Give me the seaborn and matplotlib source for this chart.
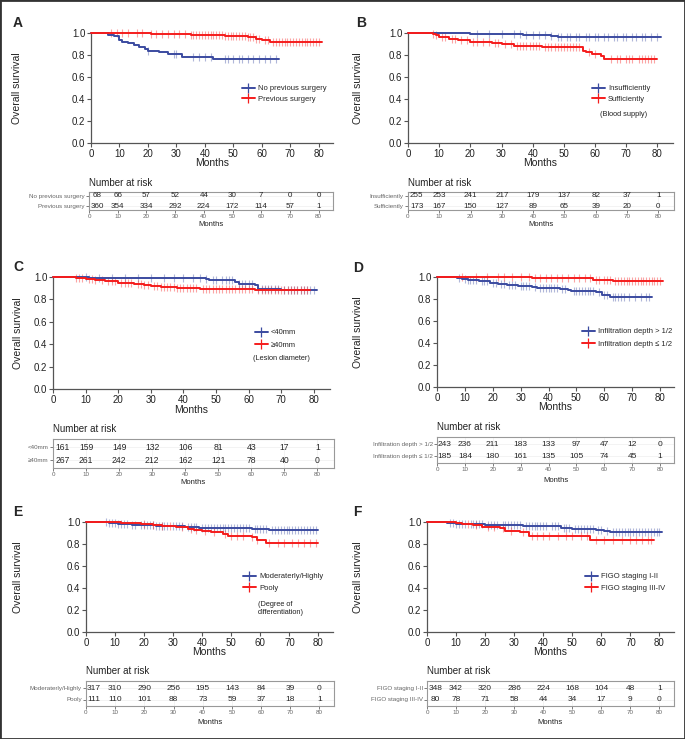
import numpy as np
import matplotlib
matplotlib.use("Agg")
import matplotlib.pyplot as plt
import seaborn as sns
from matplotlib.lines import Line2D
from matplotlib.patches import Rectangle

sns.set_theme(style="ticks")
plt.rcParams["font.family"] = ["Liberation Sans", "DejaVu Sans"]

BLUE = "#3b4ba0"
RED = "#f51c1c"
W, H = 685, 739

# ====================================================
# DATA
# ====================================================
months = [0, 10, 20, 30, 40, 50, 60, 70, 80]

# A - previous surgery
a_groups = ["No previous surgery", "Previous surgery"]
a_blue_t = [6, 8, 10, 11, 13, 15, 17, 19, 20, 24, 27, 32, 43]
a_blue_s = [0.985, 0.97, 0.94, 0.92, 0.905, 0.89, 0.87, 0.855, 0.84, 0.825, 0.81, 0.78, 0.76]
a_blue_end = 66
a_blue_cens = [20, 29, 30, 36, 38, 40, 42, 47, 48, 50, 52, 53, 55, 57, 59, 61, 63, 65]
a_red_t = [8, 21, 35, 47, 55, 58, 60, 63]
a_red_s = [0.997, 0.99, 0.98, 0.97, 0.96, 0.95, 0.94, 0.92]
a_red_end = 81
a_red_cens = [7, 9, 11, 13, 16, 18, 21, 23, 25, 27, 29, 31, 33, 35, 36, 37, 38, 39, 40, 41,
              42, 43, 44, 45, 46, 47, 48, 49, 50, 51, 52, 53, 54, 55, 56, 57, 58, 59, 61, 62,
              64, 65, 66, 67, 68, 69, 70, 71, 72, 73, 74, 75, 76, 77, 78, 79, 80]
a_risk_blue = [68, 66, 57, 52, 44, 30, 7, 0, 0]
a_risk_red = [360, 354, 334, 292, 224, 172, 114, 57, 1]

# B - blood supply
b_groups = ["Insufficiently", "Sufficiently"]
b_blue_t = [20, 32, 37, 46, 48]
b_blue_s = [0.995, 0.99, 0.98, 0.975, 0.965]
b_blue_end = 81
b_blue_cens = [22, 26, 30, 34, 36, 38, 40, 42, 44, 46, 48, 49, 51, 52, 54, 55, 57, 58, 60, 61,
               63, 64, 66, 67, 69, 70, 72, 73, 75, 76, 78, 80]
b_red_t = [8, 9, 10, 13, 16, 20, 27, 30, 34, 43, 56, 57, 59, 62, 63]
b_red_s = [0.99, 0.98, 0.96, 0.95, 0.935, 0.92, 0.91, 0.90, 0.88, 0.87, 0.84, 0.825, 0.81, 0.79, 0.76]
b_red_end = 80
b_red_cens = [8, 9, 11, 12, 14, 15, 17, 19, 21, 22, 24, 26, 28, 29, 31, 33, 35, 36, 37, 38,
              39, 40, 41, 42, 44, 45, 46, 47, 48, 49, 50, 51, 52, 53, 54, 55, 58, 60, 65, 67,
              68, 70, 71, 72, 74, 75, 76, 77, 78, 79]
b_risk_blue = [255, 253, 241, 217, 179, 137, 82, 37, 1]
b_risk_red = [173, 167, 150, 127, 89, 65, 39, 20, 0]

# C - lesion diameter
c_groups = ["<40mm", "≥40mm"]
c_blue_t = [11, 32, 47, 48, 56, 57, 62, 63, 70]
c_blue_s = [0.995, 0.99, 0.98, 0.97, 0.955, 0.94, 0.93, 0.89, 0.88]
c_blue_end = 81
c_blue_cens = [10, 14, 18, 22, 26, 30, 34, 37, 40, 43, 45, 47, 49, 50, 52, 53, 54, 55, 57, 58,
               59, 60, 61, 63, 64, 65, 66, 67, 68, 69, 71, 72, 73, 74, 75, 76, 77, 78, 79, 80]
c_red_t = [7, 9, 10, 13, 16, 20, 25, 28, 30, 33, 38, 45, 62]
c_red_s = [0.995, 0.99, 0.98, 0.97, 0.96, 0.95, 0.94, 0.93, 0.92, 0.91, 0.90, 0.89, 0.885]
c_red_end = 79
c_red_cens = [7, 8, 9, 11, 12, 13, 15, 17, 18, 19, 21, 22, 23, 24, 26, 27, 28, 29, 31, 32,
              33, 34, 35, 36, 37, 38, 39, 40, 41, 42, 43, 44, 46, 47, 48, 49, 50, 51, 52, 53,
              54, 55, 56, 57, 58, 59, 60, 61, 63, 64, 65, 66, 67, 68, 69, 70, 71, 72, 73, 74,
              75, 76, 77, 78]
c_risk_blue = [161, 159, 149, 132, 106, 81, 43, 17, 1]
c_risk_red = [267, 261, 242, 212, 162, 121, 78, 40, 0]

# D - infiltration depth
d_groups = ["Infiltration depth > 1/2", "Infiltration depth ≤ 1/2"]
d_blue_t = [7, 9, 11, 15, 19, 22, 25, 29, 34, 36, 44, 47, 48, 57, 59, 62]
d_blue_s = [0.99, 0.98, 0.97, 0.96, 0.95, 0.94, 0.93, 0.92, 0.91, 0.90, 0.89, 0.88, 0.87, 0.86, 0.84, 0.82]
d_blue_end = 77
d_blue_cens = [8, 10, 11, 12, 13, 14, 16, 17, 18, 20, 21, 23, 24, 26, 27, 28, 30, 31, 32, 33,
               35, 37, 38, 39, 40, 41, 42, 43, 45, 46, 49, 50, 51, 52, 53, 54, 55, 56, 58, 60,
               61, 63, 64, 65, 66, 67, 69, 71, 73, 75, 76]
d_red_t = [34, 56, 63]
d_red_s = [0.99, 0.975, 0.96]
d_red_end = 81
d_red_cens = [9, 14, 18, 22, 24, 27, 30, 33, 35, 37, 39, 41, 43, 45, 47, 49, 51, 53, 55, 57,
              58, 60, 61, 62, 64, 65, 66, 67, 68, 69, 70, 71, 72, 73, 74, 75, 76, 77, 78, 79, 80]
d_risk_blue = [243, 236, 211, 183, 133, 97, 47, 12, 0]
d_risk_red = [185, 184, 180, 161, 135, 105, 74, 45, 1]

# E - degree of differentiation
e_groups = ["Moderaterly/Highly", "Pooly"]
e_blue_t = [8, 11, 16, 24, 30, 34, 39, 57, 63]
e_blue_s = [0.99, 0.98, 0.97, 0.965, 0.96, 0.955, 0.95, 0.94, 0.925]
e_blue_end = 80
e_blue_cens = [7, 8, 9, 10, 11, 12, 13, 14, 16, 17, 19, 20, 21, 22, 23, 24, 25, 26, 27, 28,
               30, 31, 32, 33, 35, 36, 37, 38, 40, 41, 42, 43, 44, 45, 46, 47, 48, 49, 50, 51,
               52, 53, 54, 55, 56, 58, 59, 60, 61, 62, 64, 65, 66, 67, 68, 69, 70, 71, 72, 73,
               74, 75, 76, 77, 78, 79]
e_red_t = [12, 19, 23, 26, 31, 35, 37, 40, 43, 47, 49, 57, 59, 62]
e_red_s = [0.995, 0.985, 0.975, 0.965, 0.955, 0.94, 0.93, 0.92, 0.91, 0.89, 0.875, 0.86, 0.84, 0.81]
e_red_end = 80
e_red_cens = [20, 23, 26, 29, 33, 36, 38, 41, 44, 48, 50, 52, 54, 57, 59, 63, 66, 68, 71, 73,
              75, 77, 79]
e_risk_blue = [317, 310, 290, 256, 195, 143, 84, 39, 0]
e_risk_red = [111, 110, 101, 88, 73, 59, 37, 18, 1]

# F - FIGO staging
f_groups = ["FIGO staging I-II", "FIGO staging III-IV"]
f_blue_t = [7, 10, 14, 20, 25, 33, 42, 46, 50, 58, 61, 63]
f_blue_s = [0.99, 0.985, 0.98, 0.975, 0.97, 0.965, 0.96, 0.95, 0.94, 0.93, 0.92, 0.905]
f_blue_end = 81
f_blue_cens = [8, 9, 10, 11, 12, 13, 15, 16, 17, 18, 19, 21, 22, 23, 24, 26, 27, 28, 29, 30,
               31, 32, 34, 35, 36, 37, 38, 39, 40, 41, 43, 44, 45, 47, 48, 49, 51, 52, 53, 54,
               55, 56, 57, 59, 60, 62, 64, 65, 66, 67, 68, 69, 70, 71, 72, 73, 74, 75, 76, 77,
               78, 79, 80]
f_red_t = [10, 12, 16, 19, 25, 27, 32, 35, 56]
f_red_s = [0.99, 0.98, 0.97, 0.955, 0.945, 0.92, 0.905, 0.875, 0.84]
f_red_end = 78
f_red_cens = [14, 17, 21, 23, 26, 29, 33, 36, 38, 40, 42, 45, 48, 50, 53, 55, 58, 61, 64, 67,
              70, 72, 74, 76, 77]
f_risk_blue = [348, 342, 320, 286, 224, 168, 104, 48, 1]
f_risk_red = [80, 78, 71, 58, 44, 34, 17, 9, 0]

# ====================================================
# LAYOUT (pixel positions)
# ====================================================
panels = [
    dict(letter="A", groups=a_groups, ax=(91, 333, 33, 143), let=(18, 23), ylx=17, xly=163,
         leg=(242, 94, 0.45), note=None, tab=(89, 333, 192, 210), rows=(0.78, 0.22), nfs=5.8,
         ty=183, tmy=224,
         blue=(a_blue_t, a_blue_s, a_blue_end, a_blue_cens),
         red=(a_red_t, a_red_s, a_red_end, a_red_cens), risk=(a_risk_blue, a_risk_red)),
    dict(letter="B", groups=b_groups, ax=(408, 673, 33, 143), let=(361, 23), ylx=358, xly=163,
         leg=(592, 94, 0.45), note=("(Blood supply)", 600, 115), tab=(408, 674, 192, 210),
         rows=(0.78, 0.22), nfs=5.8, ty=183, tmy=224,
         blue=(b_blue_t, b_blue_s, b_blue_end, b_blue_cens),
         red=(b_red_t, b_red_s, b_red_end, b_red_cens), risk=(b_risk_blue, b_risk_red)),
    dict(letter="C", groups=c_groups, ax=(53, 330, 277, 389), let=(18, 267), ylx=18, xly=410,
         leg=(255, 339, 0.7), note=("(Lesion diameter)", 253, 358), tab=(53, 334, 439, 468),
         rows=(0.72, 0.27), nfs=6.2, ty=429, tmy=483,
         blue=(c_blue_t, c_blue_s, c_blue_end, c_blue_cens),
         red=(c_red_t, c_red_s, c_red_end, c_red_cens), risk=(c_risk_blue, c_risk_red)),
    dict(letter="D", groups=d_groups, ax=(437, 674, 277, 387), let=(358, 268), ylx=358, xly=407,
         leg=(582, 338, 0.7), note=None, tab=(437, 674, 437, 463),
         rows=(0.72, 0.26), nfs=6.0, ty=427, tmy=481,
         blue=(d_blue_t, d_blue_s, d_blue_end, d_blue_cens),
         red=(d_red_t, d_red_s, d_red_end, d_red_cens), risk=(d_risk_blue, d_risk_red)),
    dict(letter="E", groups=e_groups, ax=(86, 333, 522, 632), let=(18, 512), ylx=18, xly=652,
         leg=(243, 582.5, 0.6), note=("(Degree of\ndifferentiation)", 258, 608),
         tab=(86, 334, 681, 706), rows=(0.72, 0.26), nfs=6.0, ty=671, tmy=723,
         blue=(e_blue_t, e_blue_s, e_blue_end, e_blue_cens),
         red=(e_red_t, e_red_s, e_red_end, e_red_cens), risk=(e_risk_blue, e_risk_red)),
    dict(letter="F", groups=f_groups, ax=(427, 674, 522, 632), let=(357, 512), ylx=358, xly=652,
         leg=(585, 582.5, 0.6), note=None, tab=(427, 674, 681, 706),
         rows=(0.72, 0.26), nfs=6.0, ty=671, tmy=723,
         blue=(f_blue_t, f_blue_s, f_blue_end, f_blue_cens),
         red=(f_red_t, f_red_s, f_red_end, f_red_cens), risk=(f_risk_blue, f_risk_red)),
]

fig = plt.figure(figsize=(W / 100, H / 100), dpi=100)
fig.patch.set_facecolor("white")


def rect(l, r, t, b):
    return [l / W, 1 - b / H, (r - l) / W, (b - t) / H]


def ftext(x, y, s, **kw):
    fig.text(x / W, 1 - y / H, s, **kw)


def km_curve(ax, t, s, end, cens, color):
    x = [0] + list(t) + [end]
    y = [1.0] + list(s) + [s[-1]]
    sns.lineplot(x=x, y=y, drawstyle="steps-post", color=color, lw=1.4,
                 estimator=None, sort=False, ax=ax, clip_on=False, zorder=3)
    steps = np.array([1.0] + list(s))
    cy = steps[np.searchsorted(t, cens, side="right")]
    sns.scatterplot(x=cens, y=cy, marker="|", s=32, color=color, alpha=0.4,
                    linewidth=0.8, ax=ax, clip_on=False, zorder=2)


for p in panels:
    ax = fig.add_axes(rect(*p["ax"]))
    km_curve(ax, *p["blue"], BLUE)
    km_curve(ax, *p["red"], RED)
    ax.set_xlim(0, 85)
    ax.set_ylim(0, 1.0)
    ax.set_xticks(months)
    ax.set_yticks([0, 0.2, 0.4, 0.6, 0.8, 1.0])
    ax.set_yticklabels(["0.0", "0.2", "0.4", "0.6", "0.8", "1.0"])
    ax.tick_params(labelsize=7, length=3, width=0.8, color="#555", labelcolor="#222", pad=1)
    sns.despine(ax=ax)
    for sp in ["left", "bottom"]:
        ax.spines[sp].set_color("#555")
        ax.spines[sp].set_linewidth(0.9)
    ax.set_xlabel("")
    ax.set_ylabel("")

    l, r, t, b = p["ax"]
    ftext(p["let"][0], p["let"][1], p["letter"], fontsize=10, fontweight="bold",
          ha="center", va="center")
    ftext(p["ylx"], (t + b) / 2, "Overall survival", fontsize=7.5, rotation=90,
          ha="center", va="center", color="#222")
    ftext((l + r) / 2, p["xly"], "Months", fontsize=7.5, ha="center", va="center", color="#222")

    handles = [Line2D([0], [0], color=c, lw=1.4, marker="|", markersize=7, markeredgewidth=0.9)
               for c in (BLUE, RED)]
    lx, ly, lsp = p["leg"]
    ax.legend(handles, p["groups"], loc="center left", bbox_to_anchor=(lx / W, 1 - ly / H),
              bbox_transform=fig.transFigure, frameon=False, fontsize=5.5, handlelength=1.7,
              handletextpad=0.4, borderpad=0, borderaxespad=0, labelspacing=lsp)
    if p["note"] is not None:
        txt, nx, ny = p["note"]
        ftext(nx, ny, txt, fontsize=5.3, ha="left", va="center", color="#222", linespacing=1.2)

    # Number at risk table
    tab = fig.add_axes(rect(*p["tab"]))
    f1, f2 = p["rows"]
    span = 1 / (f1 - f2)
    lo = 1 - f2 * span
    tab.set_xlim(0, 85)
    tab.set_ylim(lo, lo + span)
    for i, m in enumerate(months):
        xm = max(m, 2.8)
        tab.text(xm, 2, str(p["risk"][0][i]), fontsize=p["nfs"], ha="center", va="center")
        tab.text(xm, 1, str(p["risk"][1][i]), fontsize=p["nfs"], ha="center", va="center")
    tab.set_xticks(months)
    tab.set_yticks([2, 1])
    tab.set_yticklabels(p["groups"])
    tab.tick_params(labelsize=4.5, length=2, width=0.6, color="#666", labelcolor="#666", pad=1)
    tab.grid(color="#eeeeee", lw=0.5)
    tab.set_facecolor("white")
    for sp in tab.spines.values():
        sp.set_color("#999")
        sp.set_linewidth(0.8)
    tl, tr, tt, tb = p["tab"]
    ftext(tl, p["ty"], "Number at risk", fontsize=7, ha="left", va="center", color="#222")
    ftext((tl + tr) / 2, p["tmy"], "Months", fontsize=5.5, ha="center", va="center", color="#222")

fig.add_artist(Rectangle((0, 0), 1, 1, transform=fig.transFigure, fill=False,
                         edgecolor="#333", lw=2))

fig.savefig("out.png", dpi=100)
